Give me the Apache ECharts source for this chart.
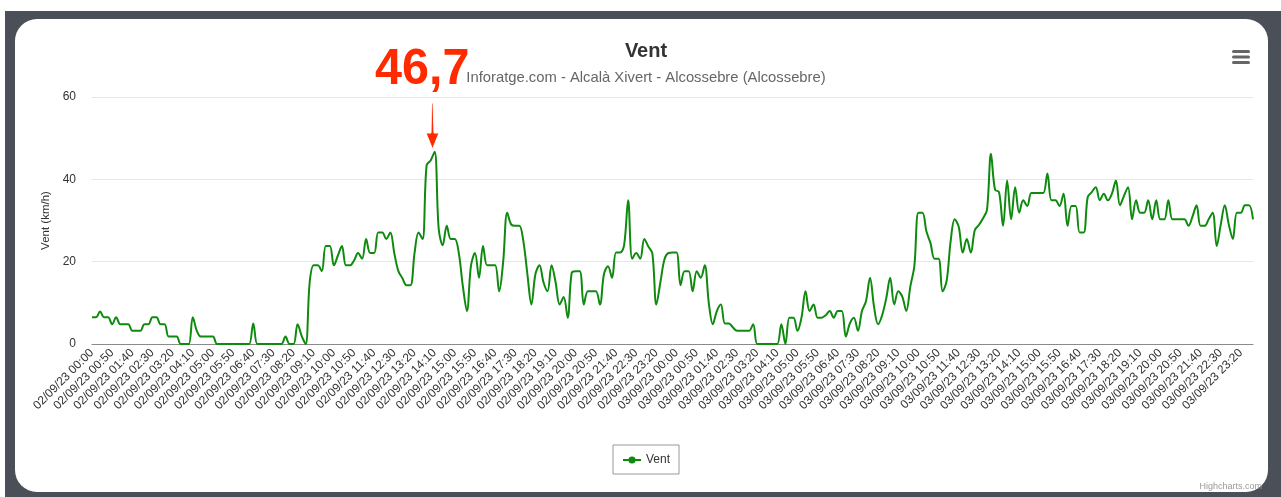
<!DOCTYPE html>
<html>
<head>
<meta charset="utf-8">
<script src="https://cdn.jsdelivr.net/npm/echarts@6/dist/echarts.min.js"></script>
<style>
html,body{margin:0;padding:0;background:#fff;width:1281px;height:497px;overflow:hidden;}
#frame{position:absolute;left:5px;top:11px;width:1276px;height:486px;background:#4b4f58;}
#card{position:absolute;left:15px;top:19px;width:1253px;height:473px;background:#fff;border-radius:22px;}
#chart{position:absolute;left:0;top:0;width:1281px;height:497px;}
</style>
</head>
<body>
<div id="frame"></div>
<div id="card"></div>
<div id="chart"></div>
<script>
// Day 1 (02/09/23) values, 10-minute steps, plus one extra sample before midnight
const day1Values = [
  6.5, 6.5, 7.9, 6.5, 6.5, 4.8, 6.5, 4.8, 4.8, 4.8,
  3.2, 3.2, 3.2, 4.8, 4.8, 6.5, 6.5, 4.8, 4.8, 1.8,
  1.8, 1.8, 0, 0, 0, 6.5, 3.2, 1.8, 1.8, 1.8,
  1.8, 0, 0, 0, 0, 0, 0, 0, 0, 0,
  5.0, 0, 0, 0, 0, 0, 0, 0, 1.8, 0,
  0, 4.8, 2.0, 0, 15, 19.1, 19.1, 17.7, 23.8, 23.8,
  19.1, 21.5, 23.8, 19.1, 19.1, 20.3, 22.1, 20.7, 25.5, 22.1,
  22.1, 27.1, 27.1, 25.5, 27.1, 22, 17.7, 16, 14.3, 14.3,
  22, 27.1, 25.5, 43.4, 44.6, 46.7, 28, 24, 28.7, 25.5,
  25.5, 22, 14, 8.0, 19, 22.1, 16.1, 23.8, 19.1, 19.1,
  19.1, 12.8, 20, 31.9, 29, 28.7, 28.7, 25, 17, 9.6,
  17, 19.1, 15, 12.8, 19.1, 15, 9.6, 11.4, 6.4, 17.3,
  17.7, 17.7, 9.6, 12.8, 12.8, 12.8, 9.6, 17, 18.9, 16.1,
  22.2, 22.2, 24, 34.9, 20.7, 22.1, 20.7, 25.5, 23.7, 22.0,
  9.6, 15, 20.5, 22.1, 22.2
];
// Day 2 (03/09/23) values, 10-minute steps
const day2Values = [
  22.2, 14.3, 17.7, 17.7, 12.8, 17.7, 16.1, 19.1, 10, 4.8,
  8, 9.6, 5.0, 5.0, 4, 3.2, 3.2, 3.2, 3.2, 4.8,
  0, 0, 0, 0, 0, 0, 4.8, 0, 6.4, 6.4,
  3.2, 6.4, 12.8, 8.0, 9.6, 6.4, 6.4, 7, 8.0, 6.4,
  8.0, 8.0, 1.8, 5, 6.4, 3.2, 8.0, 10.4, 16.1, 9,
  4.8, 7, 11, 16.1, 9.6, 12.8, 11.5, 8.0, 14, 19,
  31.9, 31.9, 27.3, 24.5, 20.7, 20.7, 12.8, 15.3, 25, 30.3,
  28.5, 22.2, 25.5, 22.2, 27.7, 28.9, 30.5, 32.5, 46.2, 37.5,
  36.9, 28.7, 39.7, 30.3, 38.1, 31.9, 34.9, 33.5, 36.7, 36.7,
  36.7, 36.7, 41.4, 34.9, 34.9, 33.5, 36.5, 28.7, 33.5, 33.5,
  27.1, 27.1, 35.7, 36.9, 38.1, 34.9, 36.5, 34.9, 36.5, 39.7,
  33.7, 36, 38.1, 30.3, 34.9, 31.9, 31.9, 34.9, 30.3, 34.9,
  30.3, 30.3, 34.9, 30.3, 30.3, 30.3, 30.3, 28.7, 31, 33.7,
  28.7, 28.7, 30.3, 31.9, 23.8, 29, 33.7, 29, 25.5, 31.9,
  31.9, 33.7, 33.7, 30.3
];
const dayLabels = ['02/09/23', '03/09/23'];
const yTicks = [0, 20, 40, 60];
const seriesName = 'Vent';
const titleText = 'Vent';
const subtitleText = 'Inforatge.com - Alcalà Xivert - Alcossebre (Alcossebre)';
const yAxisTitle = 'Vent (km/h)';
const peakLabel = '46,7';

function pad(n){ return (n < 10 ? '0' : '') + n; }
function dayTimes(day){
  const out = [];
  for (let h = 0; h < 24; h++) for (let m = 0; m < 60; m += 10) out.push(day + ' ' + pad(h) + ':' + pad(m));
  return out;
}
const categories = dayTimes(dayLabels[0]).concat([dayLabels[0] + ' 23:59'], dayTimes(dayLabels[1]));
const values = day1Values.concat(day2Values);

const FONT = '"Liberation Sans", Arial, Helvetica, sans-serif';
const chart = echarts.init(document.getElementById('chart'), null, {renderer: 'canvas'});
chart.setOption({
  animation: false,
  backgroundColor: 'transparent',
  textStyle: {fontFamily: FONT},
  title: {
    text: titleText,
    subtext: subtitleText,
    left: 641,
    textAlign: 'center',
    top: 36,
    itemGap: 9,
    textStyle: {fontSize: 20, fontWeight: 'bold', color: '#333', fontFamily: FONT},
    subtextStyle: {fontSize: 14.8, color: '#666', fontFamily: FONT}
  },
  grid: {left: 92, right: 28, top: 97, bottom: 153, containLabel: false},
  xAxis: {
    type: 'category',
    data: categories,
    boundaryGap: false,
    axisLine: {lineStyle: {color: '#8a8a8a', width: 1}},
    axisTick: {show: false},
    splitLine: {show: false},
    axisLabel: {interval: 4, rotate: 45, fontSize: 12, color: '#333', margin: 7, fontFamily: FONT}
  },
  yAxis: {
    type: 'value',
    min: yTicks[0],
    max: yTicks[yTicks.length - 1],
    interval: yTicks[1] - yTicks[0],
    name: yAxisTitle,
    nameLocation: 'middle',
    nameGap: 36,
    nameTextStyle: {fontSize: 11.5, color: '#333', fontFamily: FONT},
    axisLine: {show: false},
    axisTick: {show: false},
    axisLabel: {fontSize: 12, color: '#333', margin: 16, fontFamily: FONT},
    splitLine: {lineStyle: {color: '#e6e6e6', width: 1}}
  },
  legend: {
    data: [seriesName],
    left: 613,
    top: 445,
    padding: [9, 9, 8, 9],
    borderColor: '#999',
    borderWidth: 1,
    borderRadius: 0,
    backgroundColor: '#fff',
    itemWidth: 18,
    itemHeight: 9,
    itemGap: 6,
    textStyle: {fontSize: 12, color: '#333', fontFamily: FONT}
  },
  series: [{
    name: seriesName,
    type: 'line',
    data: values,
    smooth: 0.35,
    symbol: 'circle',
    symbolSize: 8,
    showSymbol: false,
    lineStyle: {color: '#0e8a0e', width: 2},
    itemStyle: {color: '#0e8a0e'}
  }],
  graphic: [
    {type: 'rect', left: 1232, top: 50, shape: {width: 18, height: 3, r: 1.5}, style: {fill: '#666'}},
    {type: 'rect', left: 1232, top: 55.5, shape: {width: 18, height: 3, r: 1.5}, style: {fill: '#666'}},
    {type: 'rect', left: 1232, top: 61, shape: {width: 18, height: 3, r: 1.5}, style: {fill: '#666'}},
    {type: 'text', right: 19, bottom: 6, style: {text: 'Highcharts.com', fontSize: 9, fill: '#999', fontFamily: FONT}},
    {
      type: 'polygon', z: 100,
      shape: {points: [[431.5, 103], [433, 103], [434, 133], [439, 133], [432.5, 149], [426, 133], [431, 133]]},
      style: {fill: '#ff2a00', stroke: '#fff', lineWidth: 1}
    },
    {
      type: 'text', z: 100, x: 375, y: 95, scaleX: 0.97, originX: 0, originY: 0,
      style: {
        text: peakLabel, fontSize: 50, fontWeight: 'bold', fontFamily: FONT,
        fill: '#ff2a00', stroke: '#fff', lineWidth: 5,
        verticalAlign: 'bottom',
        shadowBlur: 4, shadowColor: 'rgba(0,0,0,0.25)', shadowOffsetY: 1
      }
    }
  ]
});
</script>
</body>
</html>
